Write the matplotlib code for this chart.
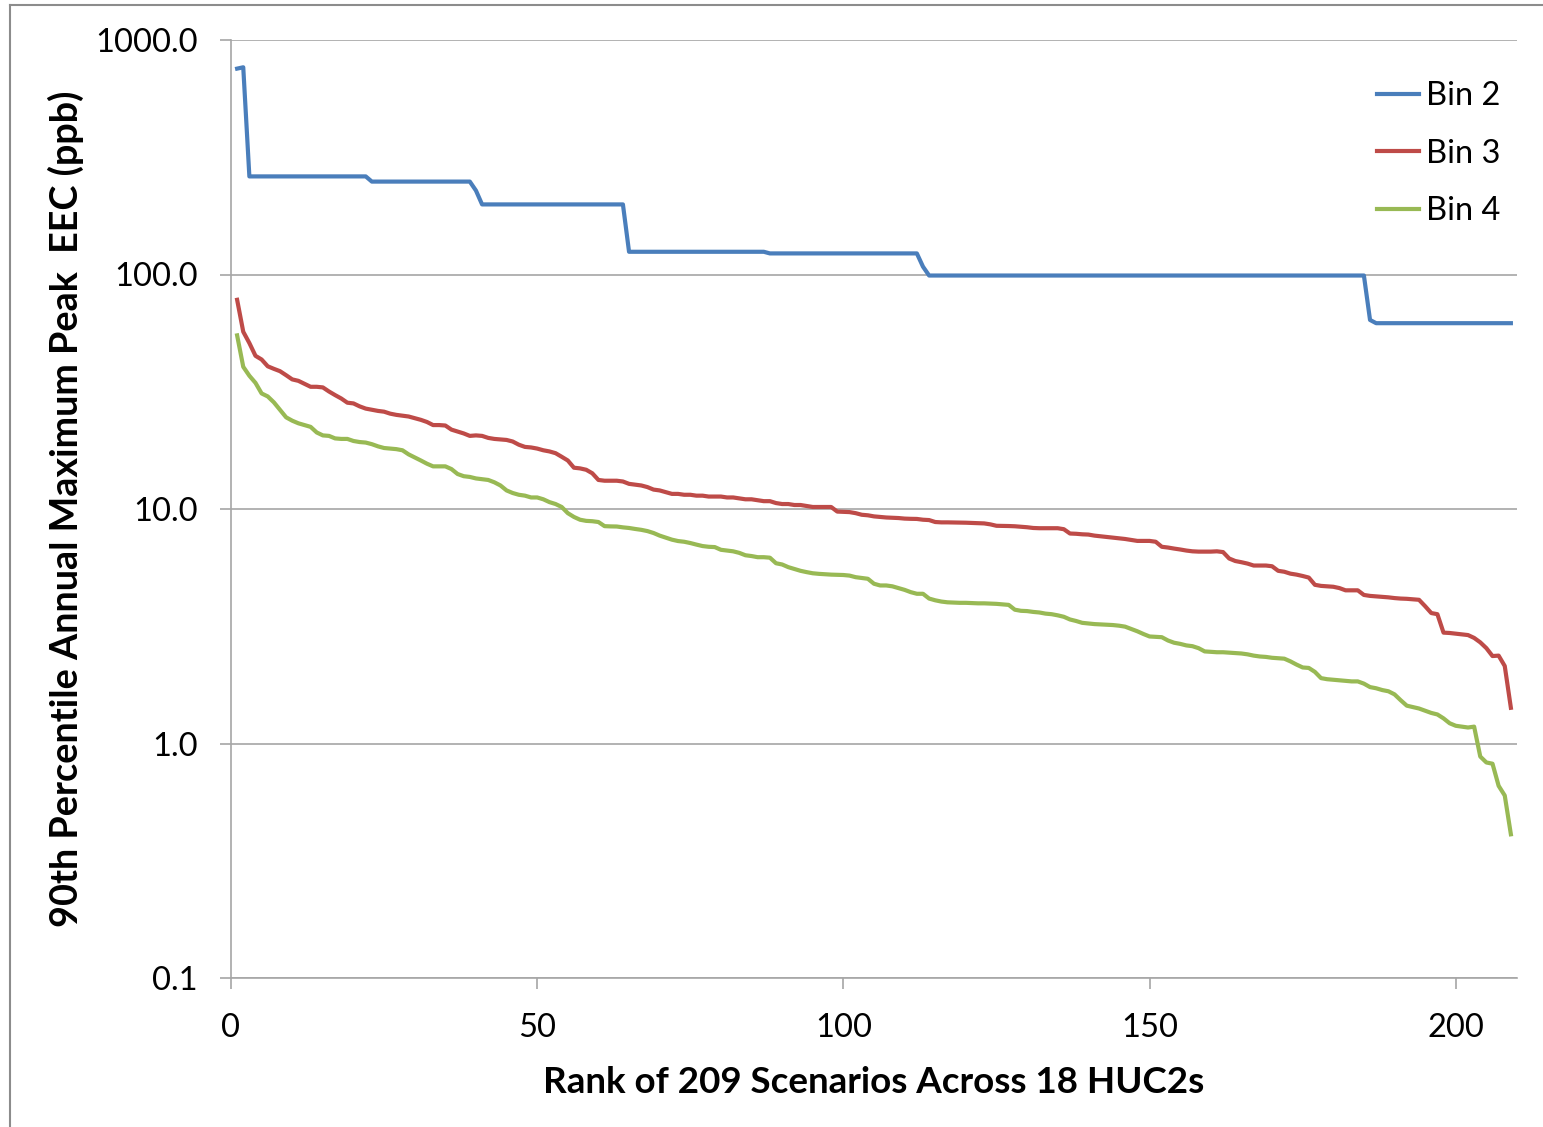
import matplotlib
matplotlib.use("Agg")
import matplotlib.pyplot as plt
from matplotlib.lines import Line2D
from matplotlib.ticker import NullLocator, FuncFormatter

# scenario rank on x
rank = list(range(1, 210))

# 90th percentile annual max peak EEC (ppb)
bin2 = [
    755, 765, 262, 262, 262, 262, 262, 262, 262, 262,
    262, 262, 262, 262, 262, 262, 262, 262, 262, 262,
    262, 262, 249, 249, 249, 249, 249, 249, 249, 249,
    249, 249, 249, 249, 249, 249, 249, 249, 249, 228,
    199, 199, 199, 199, 199, 199, 199, 199, 199, 199,
    199, 199, 199, 199, 199, 199, 199, 199, 199, 199,
    199, 199, 199, 199, 125, 125, 125, 125, 125, 125,
    125, 125, 125, 125, 125, 125, 125, 125, 125, 125,
    125, 125, 125, 125, 125, 125, 125, 123, 123, 123,
    123, 123, 123, 123, 123, 123, 123, 123, 123, 123,
    123, 123, 123, 123, 123, 123, 123, 123, 123, 123,
    123, 123, 108, 99, 99, 99, 99, 99, 99, 99,
    99, 99, 99, 99, 99, 99, 99, 99, 99, 99,
    99, 99, 99, 99, 99, 99, 99, 99, 99, 99,
    99, 99, 99, 99, 99, 99, 99, 99, 99, 99,
    99, 99, 99, 99, 99, 99, 99, 99, 99, 99,
    99, 99, 99, 99, 99, 99, 99, 99, 99, 99,
    99, 99, 99, 99, 99, 99, 99, 99, 99, 99,
    99, 99, 99, 99, 99, 64, 62, 62, 62, 62,
    62, 62, 62, 62, 62, 62, 62, 62, 62, 62,
    62, 62, 62, 62, 62, 62, 62, 62, 62,
]
bin3 = [
    78, 57, 51, 45, 43.4, 40.6, 39.6, 38.7, 37.2, 35.7,
    35.2, 34.2, 33.2, 33.2, 33.0, 31.7, 30.6, 29.6, 28.4, 28.2,
    27.4, 26.8, 26.5, 26.2, 26.0, 25.5, 25.2, 25.0, 24.8, 24.4,
    24.0, 23.5, 22.8, 22.8, 22.7, 21.8, 21.4, 21.0, 20.5, 20.6,
    20.5, 20.1, 19.9, 19.8, 19.7, 19.4, 18.8, 18.4, 18.3, 18.1,
    17.8, 17.6, 17.3, 16.7, 16.1, 15.0, 14.9, 14.7, 14.2, 13.3,
    13.2, 13.2, 13.2, 13.1, 12.8, 12.7, 12.6, 12.4, 12.1, 12.0,
    11.8, 11.6, 11.6, 11.5, 11.5, 11.4, 11.4, 11.3, 11.3, 11.3,
    11.2, 11.2, 11.1, 11.0, 11.0, 10.9, 10.8, 10.8, 10.6, 10.5,
    10.5, 10.4, 10.4, 10.3, 10.2, 10.2, 10.2, 10.2, 9.75, 9.72,
    9.7, 9.6, 9.45, 9.4, 9.3, 9.25, 9.2, 9.17, 9.15, 9.1,
    9.08, 9.07, 9.0, 8.97, 8.8, 8.77, 8.77, 8.76, 8.75, 8.74,
    8.72, 8.7, 8.68, 8.6, 8.48, 8.47, 8.46, 8.44, 8.4, 8.36,
    8.3, 8.28, 8.28, 8.28, 8.28, 8.2, 7.86, 7.84, 7.8, 7.78,
    7.7, 7.65, 7.6, 7.55, 7.5, 7.45, 7.38, 7.31, 7.31, 7.31,
    7.25, 6.9, 6.85, 6.78, 6.72, 6.65, 6.6, 6.58, 6.58, 6.58,
    6.6, 6.55, 6.15, 6.0, 5.93, 5.85, 5.74, 5.74, 5.74, 5.7,
    5.45, 5.4, 5.3, 5.25, 5.18, 5.1, 4.75, 4.7, 4.68, 4.66,
    4.6, 4.5, 4.5, 4.5, 4.3, 4.26, 4.24, 4.22, 4.2, 4.17,
    4.15, 4.14, 4.12, 4.1, 3.85, 3.6, 3.56, 2.97, 2.96, 2.94,
    2.92, 2.9, 2.82, 2.7, 2.55, 2.36, 2.37, 2.14, 1.42,
]
bin4 = [
    55, 40.4, 37, 34.5, 31.1, 30.2, 28.5, 26.5, 24.6, 23.8,
    23.2, 22.8, 22.4, 21.2, 20.6, 20.5, 20.0, 19.9, 19.9, 19.5,
    19.3, 19.2, 18.9, 18.5, 18.2, 18.1, 18.0, 17.8, 17.1, 16.6,
    16.1, 15.6, 15.2, 15.2, 15.2, 14.8, 14.1, 13.8, 13.7, 13.5,
    13.4, 13.3, 13.0, 12.6, 12.0, 11.7, 11.5, 11.4, 11.2, 11.2,
    11.0, 10.7, 10.5, 10.2, 9.6, 9.25, 9.0, 8.9, 8.87, 8.8,
    8.45, 8.43, 8.42, 8.35, 8.3, 8.22, 8.15, 8.05, 7.9, 7.7,
    7.55, 7.4, 7.3, 7.25, 7.16, 7.05, 6.95, 6.9, 6.88, 6.7,
    6.65, 6.6, 6.5, 6.35, 6.3, 6.23, 6.23, 6.2, 5.87, 5.8,
    5.65, 5.55, 5.45, 5.38, 5.32, 5.29, 5.27, 5.25, 5.24, 5.23,
    5.2, 5.12, 5.08, 5.04, 4.8, 4.72, 4.72, 4.68, 4.6, 4.52,
    4.42, 4.35, 4.35, 4.15, 4.08, 4.03, 4.0, 3.99, 3.98, 3.98,
    3.97, 3.96, 3.96, 3.95, 3.94, 3.92, 3.9, 3.72, 3.68, 3.67,
    3.64, 3.62, 3.58, 3.56, 3.52, 3.47, 3.38, 3.33, 3.27, 3.25,
    3.23, 3.22, 3.21, 3.2, 3.18, 3.15, 3.08, 3.01, 2.93, 2.86,
    2.85, 2.84, 2.75, 2.69, 2.66, 2.62, 2.6, 2.55, 2.47, 2.46,
    2.45, 2.45, 2.44, 2.43, 2.42, 2.4, 2.37, 2.35, 2.34, 2.32,
    2.31, 2.3, 2.24, 2.17, 2.11, 2.1, 2.02, 1.9, 1.88, 1.87,
    1.86, 1.85, 1.84, 1.84, 1.8, 1.74, 1.72, 1.69, 1.67, 1.62,
    1.53, 1.45, 1.43, 1.41, 1.38, 1.35, 1.33, 1.28, 1.22, 1.19,
    1.18, 1.17, 1.18, 0.88, 0.83, 0.82, 0.66, 0.60, 0.41,
]
labels = ['Bin 2', 'Bin 3', 'Bin 4']
colors = ['#4a7ebb', '#be4b48', '#98b954']

y_ticks = [0.1, 1, 10, 100, 1000]
x_ticks = [0, 50, 100, 150, 200]

plt.rcParams['font.family'] = ['Lato', 'DejaVu Sans']

W, H = 1543, 1127
fig = plt.figure(figsize=(W / 100, H / 100), dpi=100)
ax = fig.add_axes([231 / W, 1 - 978 / H, (1517 - 231) / W, (978 - 40) / H])

for ys, lab, c in zip([bin2, bin3, bin4], labels, colors):
    ax.plot(rank, ys, color=c, lw=3.0, label=lab, solid_joinstyle='round')

ax.set_yscale('log')
ax.set_ylim(0.1, 1000)
ax.set_xlim(0, 210)
ax.set_yticks(y_ticks)
ax.yaxis.set_minor_locator(NullLocator())
ax.yaxis.set_major_formatter(FuncFormatter(lambda v, p: '%.1f' % v))
ax.set_xticks(x_ticks)

grey = '#a6a6a6'
ax.yaxis.grid(True, color=grey, lw=1.2)
ax.set_axisbelow(True)
for s in ['top', 'right']:
    ax.spines[s].set_visible(False)
for s in ['left', 'bottom']:
    ax.spines[s].set_color(grey)
    ax.spines[s].set_linewidth(1.2)

ax.tick_params(axis='y', direction='out', length=8, width=1.2, color=grey,
               labelsize=23.5, pad=16)
ax.tick_params(axis='x', direction='out', length=8, width=1.2, color=grey,
               labelsize=23.5, pad=17)

ax.set_xlabel('Rank of 209 Scenarios Across 18 HUC2s', fontsize=26.5,
              fontweight='bold', labelpad=17)
ax.set_ylabel('90th Percentile Annual Maximum Peak  EEC (ppb)', fontsize=27.2,
              fontweight='bold', labelpad=8)

ax.legend(loc='upper left', bbox_to_anchor=(1377 / W, 1 - 81 / H),
          bbox_transform=fig.transFigure, frameon=False, fontsize=23.5,
          handlelength=1.3, handletextpad=0.2, labelspacing=0.85,
          borderpad=0, borderaxespad=0)

# slide frame
frame = '#8c8c8c'
fig.add_artist(Line2D([10 / W, 10 / W], [0, 1 - 5 / H], color=frame, lw=1.5))
fig.add_artist(Line2D([10 / W, 1], [1 - 5 / H, 1 - 5 / H], color=frame, lw=1.5))

fig.savefig('out.png', dpi=100)
